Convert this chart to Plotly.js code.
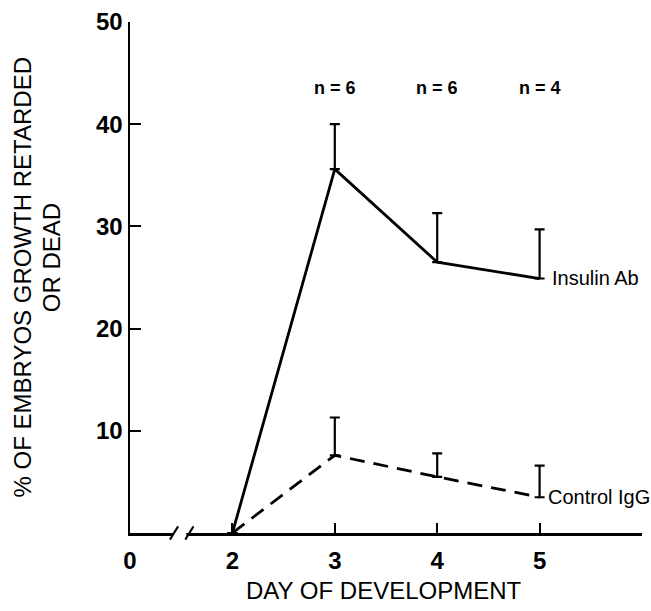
<!DOCTYPE html>
<html>
<head>
<meta charset="utf-8">
<script src="https://cdn.plot.ly/plotly-3.0.1.min.js"></script>
<style>html,body{margin:0;padding:0;background:#fff;}#chart{width:651px;height:611px;}</style>
</head>
<body>
<div id="chart"></div>
<script>
// Data
const days = [2, 3, 4, 5];
const insulinAb = [0, 35.6, 26.5, 24.9];
const insulinAbErr = [0, 4.4, 4.8, 4.8];
const controlIgG = [0, 7.6, 5.5, 3.5];
const controlIgGErr = [0, 3.7, 2.3, 3.1];
const nLabels = ['n = 6', 'n = 6', 'n = 4'];
const nDays = [3, 4, 5];
const xTickVals = [1, 2, 3, 4, 5, 6];
const xTickText = ['0', '2', '3', '4', '5', ''];
const yTickVals = [10, 20, 30, 40, 50];
const yTitleLines = ['% OF EMBRYOS GROWTH RETARDED', 'OR DEAD'];
const xTitle = 'DAY OF DEVELOPMENT';

const FONT = 'Liberation Sans, Arial, sans-serif';
const zeros = days.map(() => 0);

const traces = [
  {
    x: days, y: insulinAb, type: 'scatter', mode: 'lines', name: 'Insulin Ab',
    line: {color: '#000', width: 2.8},
    error_y: {type: 'data', symmetric: false, array: insulinAbErr, arrayminus: zeros,
              color: '#000', thickness: 2.2, width: 5}
  },
  {
    x: days, y: controlIgG, type: 'scatter', mode: 'lines', name: 'Control IgG',
    line: {color: '#000', width: 2.8, dash: '15px,9px'},
    error_y: {type: 'data', symmetric: false, array: controlIgGErr, arrayminus: zeros,
              color: '#000', thickness: 2.2, width: 5}
  }
];

const annotations = nLabels.map((t, i) => ({
  x: nDays[i], y: 43.5, xref: 'x', yref: 'y', text: t, showarrow: false,
  font: {family: FONT, size: 18, color: '#000', weight: 'bold'}
}));
annotations.push({
  x: days[3], y: insulinAb[3], xref: 'x', yref: 'y', text: 'Insulin Ab', showarrow: false,
  xanchor: 'left', xshift: 10, yshift: 1, font: {family: FONT, size: 20, color: '#000'}
});
annotations.push({
  x: days[3], y: controlIgG[3], xref: 'x', yref: 'y', text: 'Control IgG', showarrow: false,
  xanchor: 'left', xshift: 6, font: {family: FONT, size: 20, color: '#000'}
});
// axis titles
annotations.push({
  xref: 'paper', yref: 'paper', x: -0.209, y: 0.5, xanchor: 'center', yanchor: 'middle',
  text: yTitleLines[0], textangle: -90, showarrow: false,
  font: {family: FONT, size: 24, color: '#000'}
});
annotations.push({
  xref: 'paper', yref: 'paper', x: -0.154, y: 0.538, xanchor: 'center', yanchor: 'middle',
  text: yTitleLines[1], textangle: -90, showarrow: false,
  font: {family: FONT, size: 24, color: '#000'}
});
annotations.push({
  xref: 'paper', yref: 'paper', x: 0.496, y: -0.1135, xanchor: 'center', yanchor: 'middle',
  text: xTitle, showarrow: false,
  font: {family: FONT, size: 24, color: '#000'}
});

// axis break marks
const shapes = [
  {type: 'rect', xref: 'x', yref: 'paper', x0: 1.42, x1: 1.55, y0: -0.01, y1: 0.01,
   fillcolor: '#fff', line: {width: 0}, layer: 'above'},
  {type: 'line', xref: 'x', yref: 'paper', x0: 1.39, x1: 1.47, y0: -0.013, y1: 0.013,
   line: {color: '#000', width: 2}, layer: 'above'},
  {type: 'line', xref: 'x', yref: 'paper', x0: 1.54, x1: 1.62, y0: -0.013, y1: 0.013,
   line: {color: '#000', width: 2}, layer: 'above'}
];

const layout = {
  width: 651, height: 611,
  margin: {l: 130, r: 9, t: 22, b: 78},
  paper_bgcolor: '#fff', plot_bgcolor: '#fff',
  showlegend: false,
  font: {family: FONT, color: '#000'},
  xaxis: {
    range: [1, 6], tickvals: xTickVals, ticktext: xTickText,
    ticks: 'inside', ticklen: 10, tickwidth: 2, tickcolor: '#000',
    showline: true, linecolor: '#000', linewidth: 2.5,
    showgrid: false, zeroline: false, ticklabelstandoff: 5,
    tickfont: {family: FONT, size: 24, color: '#000', weight: 'bold'}
  },
  yaxis: {
    range: [0, 50], tickvals: yTickVals,
    ticks: 'inside', ticklen: 11, tickwidth: 2, tickcolor: '#000',
    showline: true, linecolor: '#000', linewidth: 2.5,
    showgrid: false, zeroline: false,
    tickfont: {family: FONT, size: 24, color: '#000', weight: 'bold'}
  },
  annotations: annotations,
  shapes: shapes
};

Plotly.newPlot('chart', traces, layout, {displayModeBar: false, staticPlot: true});
</script>
</body>
</html>
